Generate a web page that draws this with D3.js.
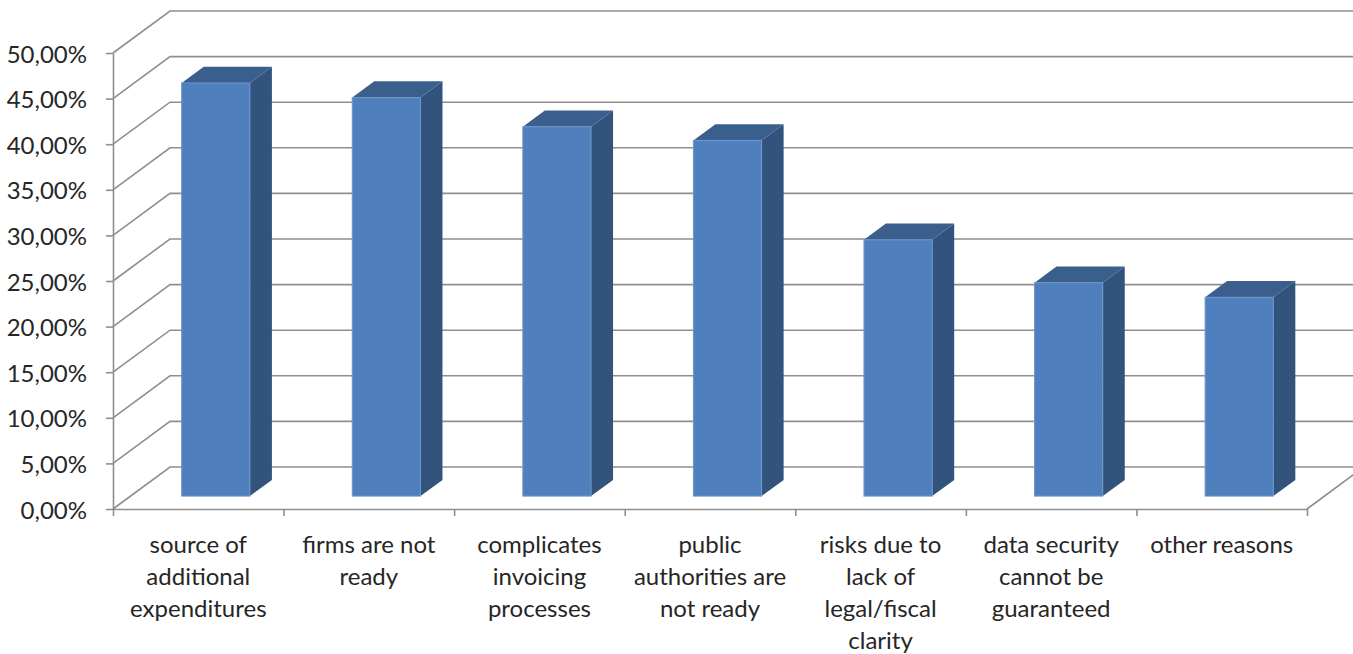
<!DOCTYPE html>
<html>
<head>
<meta charset="utf-8">
<script src="https://cdn.jsdelivr.net/npm/d3@7"></script>
<style>
  html, body { margin: 0; padding: 0; background: #fff; }
  svg { display: block; }
  text { font-family: Lato, "Open Sans", sans-serif; fill: #262626; }
</style>
</head>
<body>
<svg id="chart" width="1353" height="654"></svg>
<script>
// Reasons against e-invoicing (share of respondents)
const categories = [
  "source of\nadditional\nexpenditures",
  "firms are not\nready",
  "complicates\ninvoicing\nprocesses",
  "public\nauthorities are\nnot ready",
  "risks due to\nlack of\nlegal/fiscal\nclarity",
  "data security\ncannot be\nguaranteed",
  "other reasons"
];
const values = [0.453, 0.437, 0.405, 0.390, 0.281, 0.234, 0.218];
const tickValues = [0, 0.05, 0.10, 0.15, 0.20, 0.25, 0.30, 0.35, 0.40, 0.45, 0.50];
const tickLabels = ["0,00%", "5,00%", "10,00%", "15,00%", "20,00%", "25,00%",
                    "30,00%", "35,00%", "40,00%", "45,00%", "50,00%"];

const W = 1353, H = 654;
const plotLeft = 113, plotRight = 1307, plotBase = 509, plotTop = 53;
// oblique projection of the floor depth
const depthDx = 57, depthDy = -42;
// bars occupy the middle part of the floor depth
const barD0 = 0.307, barD1 = 0.693;
const fontSize = 24;

const svg = d3.select("#chart");
const gridColor = "#8f8f8f";

const y = d3.scaleLinear().domain([0, 0.5]).range([plotBase, plotTop]);
const xBand = d3.scaleBand().domain(categories).range([plotLeft, plotRight])
  .paddingInner(0.6).paddingOuter(0.3);
const xSlot = d3.scaleBand().domain(categories).range([plotLeft, plotRight]).padding(0);
const xEdge = d3.scaleLinear().domain([0, categories.length]).range([plotLeft, plotRight]);

// back wall gridlines with the diagonal on the side wall
const grid = svg.append("g").attr("fill", "none").attr("stroke", gridColor).attr("stroke-width", 1.6);
grid.selectAll("path.grid").data(tickValues).join("path")
  .attr("class", "grid")
  .attr("d", v => {
    const p = d3.path();
    p.moveTo(plotLeft, y(v));
    p.lineTo(plotLeft + depthDx, y(v) + depthDy);
    p.lineTo(W + 20, y(v) + depthDy);
    return p.toString();
  });

// floor right edge
grid.append("path").attr("d", () => {
  const p = d3.path();
  p.moveTo(plotRight, plotBase);
  p.lineTo(plotRight + depthDx, plotBase + depthDy);
  return p.toString();
});

// value axis on the front left edge
const yAxis = d3.axisLeft(y).tickValues(tickValues)
  .tickFormat((d, i) => tickLabels[i]).tickSize(7).tickSizeOuter(0).tickPadding(19);
const gy = svg.append("g").attr("transform", `translate(${plotLeft},0)`).call(yAxis);
gy.selectAll("path, line").attr("stroke", gridColor).attr("stroke-width", 1.6);
gy.selectAll("text").attr("font-size", fontSize).attr("fill", "#262626")
  .attr("font-family", "Lato, sans-serif").attr("dy", "0.38em");

// category axis along the front floor edge
const xAxis = d3.axisBottom(xEdge).tickValues(d3.range(categories.length + 1))
  .tickFormat("").tickSize(7).tickSizeOuter(0);
const gx = svg.append("g").attr("transform", `translate(0,${plotBase})`).call(xAxis);
gx.selectAll("path, line").attr("stroke", gridColor).attr("stroke-width", 1.6);

// bars
const bw = xBand.bandwidth();
const ddx = (barD1 - barD0) * depthDx, ddy = (barD1 - barD0) * depthDy;
const bars = svg.append("g").selectAll("g.bar").data(categories.map((c, i) => ({c, v: values[i]})))
  .join("g").attr("class", "bar");

function geom(d) {
  const xl = xBand(d.c) + barD0 * depthDx;
  const xr = xl + bw;
  const yt = y(d.v) + barD0 * depthDy;
  const yb = y(0) + barD0 * depthDy;
  return {xl, xr, yt, yb};
}

// side face
bars.append("path").attr("fill", "#32537c")
  .attr("d", d => {
    const g = geom(d);
    return `M${g.xr},${g.yt}L${g.xr + ddx},${g.yt + ddy}L${g.xr + ddx},${g.yb + ddy}L${g.xr},${g.yb}Z`;
  });
// top face
bars.append("path").attr("fill", "#3b5f8d")
  .attr("d", d => {
    const g = geom(d);
    return `M${g.xl},${g.yt}L${g.xr},${g.yt}L${g.xr + ddx},${g.yt + ddy}L${g.xl + ddx},${g.yt + ddy}Z`;
  });
// front face
bars.append("rect").attr("fill", "#4f80bd")
  .attr("stroke", "#6e97cb").attr("stroke-width", 1)
  .attr("x", d => geom(d).xl).attr("y", d => geom(d).yt)
  .attr("width", bw).attr("height", d => geom(d).yb - geom(d).yt);

// category labels
const labels = svg.append("g").selectAll("text").data(categories).join("text")
  .attr("text-anchor", "middle").attr("font-size", fontSize)
  .attr("transform", c => `translate(${xSlot(c) + xSlot.bandwidth() / 2},553)`);
labels.selectAll("tspan").data(c => c.split("\n")).join("tspan")
  .attr("x", 0).attr("y", (d, i) => i * 32).text(d => d);
</script>
</body>
</html>
